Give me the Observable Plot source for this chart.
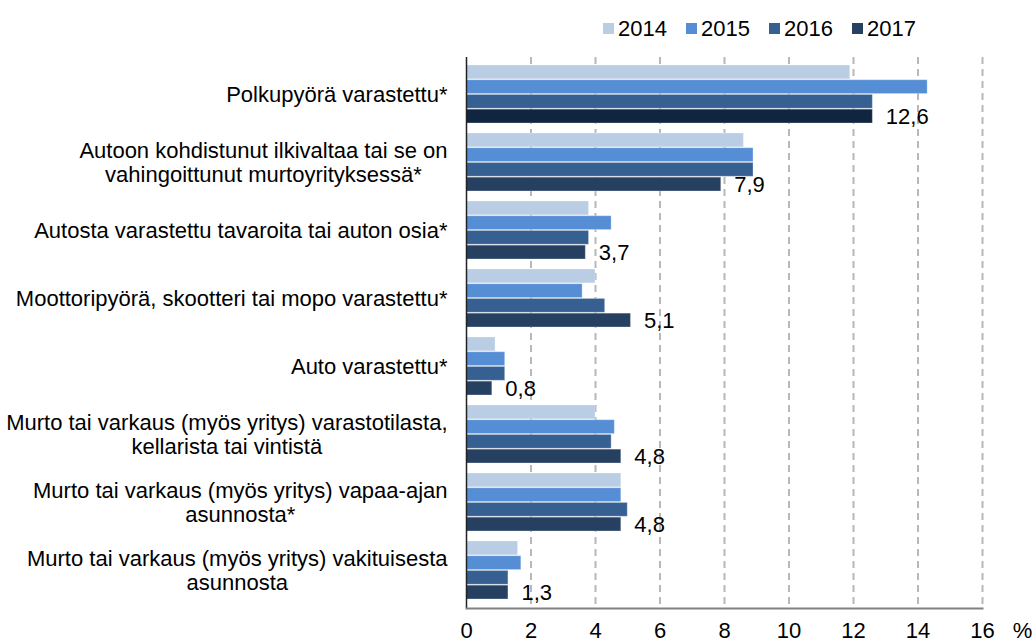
<!DOCTYPE html>
<html>
<head>
<meta charset="utf-8">
<script src="https://cdn.jsdelivr.net/npm/d3@7"></script>
<script src="https://cdn.jsdelivr.net/npm/@observablehq/plot@0.6"></script>
<style>
  body { margin: 0; background: #fff; font-family: "Liberation Sans", Arial, sans-serif; }
  #legend { height: 57px; display: flex; align-items: center; padding-left: 603px; box-sizing: border-box; font-size: 22px; color: #000; }
  .item { width: 83px; display: flex; align-items: center; }
  .sw { width: 11px; height: 11px; margin-right: 4px; flex: none; }
</style>
</head>
<body>
<div id="legend"></div>
<div id="chart"></div>
<script>
const categories = [
  "Polkupyörä varastettu*",
  "Autoon kohdistunut ilkivaltaa tai se on\nvahingoittunut murtoyrityksessä*",
  "Autosta varastettu tavaroita tai auton osia*",
  "Moottoripyörä, skootteri tai mopo varastettu*",
  "Auto varastettu*",
  "Murto tai varkaus (myös yritys) varastotilasta,\nkellarista tai vintistä",
  "Murto tai varkaus (myös yritys) vapaa-ajan\nasunnosta*",
  "Murto tai varkaus (myös yritys) vakituisesta\nasunnosta"
];
const years = ["2014", "2015", "2016", "2017"];
const v2014 = [11.9, 8.6, 3.8, 4.0, 0.9, 4.0, 4.8, 1.6];
const v2015 = [14.3, 8.9, 4.5, 3.6, 1.2, 4.6, 4.8, 1.7];
const v2016 = [12.6, 8.9, 3.8, 4.3, 1.2, 4.5, 5.0, 1.3];
const v2017 = [12.6, 7.9, 3.7, 5.1, 0.8, 4.8, 4.8, 1.3];
const xTicks = [0, 2, 4, 6, 8, 10, 12, 14, 16];
const yearColors = ["#b9cde5", "#558ed5", "#376092", "#254061"];
const highlightColor = "#10253f";

const series = [v2014, v2015, v2016, v2017];
const data = categories.flatMap((c, ci) => years.map((yr, yi) => ({
  category: c, year: yr, yi, value: series[yi][ci], highlight: ci === 0 && yi === 3
})));

// legend
const legend = document.getElementById("legend");
years.forEach((yr, i) => {
  const it = document.createElement("div");
  it.className = "item";
  it.innerHTML = `<span class="sw" style="background:${yearColors[i]}"></span><span>${yr}</span>`;
  legend.appendChild(it);
});

const W = 1036, H = 585, mTop = 0, mBottom = 34;
const pIn = 0.145, pOut = 0.075;
const step = (H - mTop - mBottom) / (categories.length - pIn + 2 * pOut);
const bw = step * (1 - pIn);
const fmt = d => d.toFixed(1).replace(".", ",");
const FS = 22;

const plot = Plot.plot({
  width: W,
  height: H,
  marginTop: mTop,
  marginBottom: mBottom,
  marginLeft: 466,
  marginRight: 54,
  style: { fontFamily: "'Liberation Sans', Arial, sans-serif", fontSize: FS + "px", color: "#000", background: "#fff", overflow: "visible" },
  x: { domain: [0, 16] },
  y: { domain: categories, paddingInner: pIn, paddingOuter: pOut, align: 0.5 },
  color: { type: "identity" },
  marks: [
    Plot.gridX({ ticks: xTicks.filter(d => d > 0), stroke: "#b8b8b8", strokeOpacity: 1, strokeWidth: 2, strokeDasharray: "7,5" }),
    ...years.map((yr, yi) => Plot.barX(data.filter(d => d.year === yr), {
      x: "value",
      y: "category",
      fill: d => d.highlight ? highlightColor : yearColors[yi],
      insetTop: yi * bw / 4,
      insetBottom: (3 - yi) * bw / 4,
      stroke: "#ffffff",
      strokeOpacity: 0.3,
      strokeWidth: 1
    })),
    Plot.ruleX([0], { stroke: "#222", strokeWidth: 1.5 }),
    Plot.frame({ anchor: "bottom", stroke: "#808080", strokeWidth: 2 }),
    Plot.text(data.filter(d => d.year === "2017"), {
      x: "value", y: "category", text: d => fmt(d.value),
      dy: 3 * bw / 8, dx: 13, textAnchor: "start", fill: "#000", fontSize: FS
    }),
    Plot.axisX({ ticks: xTicks, tickSize: 0, tickPadding: 14, label: null, fontSize: FS }),
    Plot.axisY({ tickSize: 0, tickPadding: 19, label: null, lineHeight: 1.1, fontSize: FS }),
    Plot.text(["%"], { frameAnchor: "bottom-right", lineAnchor: "middle", dx: 40, dy: 22, textAnchor: "middle", fill: "#000", fontSize: FS })
  ]
});
document.getElementById("chart").appendChild(plot);

// center the lines of multi-line category labels within their right-aligned block
plot.querySelectorAll('g[aria-label="y-axis tick label"] text').forEach(t => {
  const spans = t.querySelectorAll("tspan");
  if (spans.length < 2) return;
  const w = Array.from(spans, s => s.getComputedTextLength());
  const M = Math.max(...w);
  spans.forEach((s, i) => s.setAttribute("x", -(M - w[i]) / 2));
});
</script>
</body>
</html>
